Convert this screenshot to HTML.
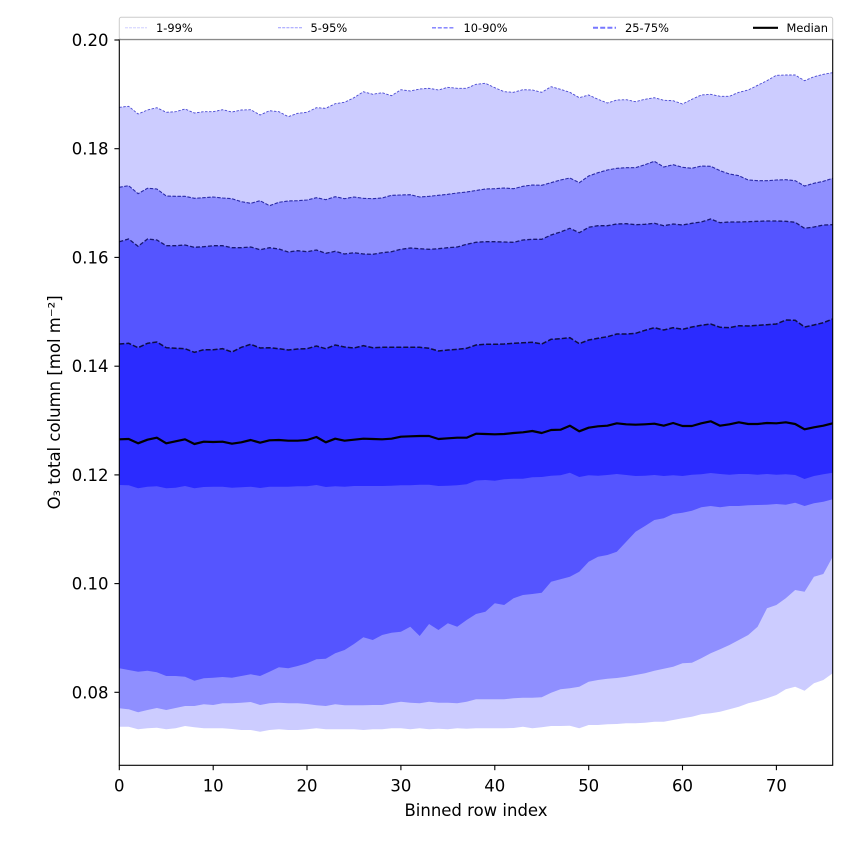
<!DOCTYPE html>
<html>
<head>
<meta charset="utf-8">
<style>
  html, body { margin:0; padding:0; background:#ffffff; }
  svg { display:block; }
  text { font-family: "DejaVu Sans", "Liberation Sans", sans-serif; fill:#000; }
</style>
</head>
<body>
<svg width="850" height="850" viewBox="0 0 850 850" xmlns="http://www.w3.org/2000/svg">
  <rect x="0" y="0" width="850" height="850" fill="#ffffff"/>
  <defs>
    <clipPath id="ax">
      <rect x="119.3" y="39.5" width="713.4" height="725.8"/>
    </clipPath>
  </defs>

  <g clip-path="url(#ax)">
    <g transform="translate(119.3,0) scale(9.387,1)">
      <!-- P99 -->
      <polygon fill="#ccccff" points="0,107.3 1,106.3 2,114 3,110 4,107.7 5,112.3 6,111.7 7,109 8,113 9,111.7 10,111.7 11,109.7 12,112 13,110 14,109.7 15,115 16,110.7 17,111.7 18,116.7 19,113.3 20,112.3 21,107.7 22,108.3 23,103.7 24,102.3 25,97.7 26,91.7 27,94.3 28,92.7 29,95.7 30,89.7 31,91 32,89 33,88.3 34,90 35,87.3 36,88.3 37,88.3 38,84.3 39,83.3 40,87.7 41,91.7 42,92.3 43,89.7 44,90 45,92.3 46,86.7 47,89.3 48,92.3 49,97.7 50,95 51,99.3 52,103 53,100 54,99.7 55,101.7 56,99.3 57,97.7 58,100.3 59,100.7 60,104 61,99.3 62,95 63,94.3 64,96.3 65,96.3 66,92.3 67,90 68,85.3 69,80.7 70,75.3 71,75 72,75 73,80.7 74,76.7 75,74.3 76,72.7 76,770 0,770"/>
      <!-- P95 -->
      <polygon fill="#8f8fff" points="0,187.3 1,185.7 2,193.7 3,188.3 4,189 5,196 6,196.3 7,196.3 8,198.3 9,197.7 10,197 11,198 12,198.7 13,201.7 14,203.3 15,200.7 16,205.7 17,202.3 18,201 19,200.7 20,200 21,197.7 22,199.7 23,196.7 24,198.7 25,197 26,198.3 27,198.7 28,198 29,195.3 30,195 31,194.7 32,197 33,196.3 34,195.3 35,194.3 36,193 37,192 38,190.5 39,189 40,188.7 41,188 42,188.7 43,186.3 44,185 45,185.3 46,182.7 47,180 48,178 49,182.7 50,176 51,172.7 52,170 53,168.3 54,167.7 55,167.7 56,164.7 57,161.3 58,167 59,164.7 60,167.3 61,168.3 62,166 63,166.3 64,170.7 65,174 66,175.7 67,180 68,180.7 69,180.7 70,180 71,179.7 72,180.7 73,186 74,183.3 75,181.3 76,178.3 76,770 0,770"/>
      <!-- P90 -->
      <polygon fill="#5555ff" points="0,241.7 1,239 2,246.3 3,239 4,240 5,245.7 6,245.7 7,245 8,247.3 9,246.7 10,245.7 11,245.7 12,247.7 13,247.7 14,247 15,249.7 16,247.7 17,249 18,252 19,250.7 20,251.7 21,250 22,253.3 23,251.3 24,254 25,252.7 26,254 27,254.3 28,252.7 29,251.7 30,249.3 31,248 32,248.7 33,249.3 34,248.7 35,247.7 36,247 37,244.3 38,242.3 39,241.7 40,241.7 41,242 42,242.3 43,240 44,239.3 45,239.3 46,235 47,232 48,228.3 49,232.7 50,227.3 51,225.7 52,225.7 53,224 54,223.7 55,224.7 56,224.3 57,223.3 58,225.7 59,224 60,225 61,223.3 62,222 63,219 64,222.7 65,222 66,222 67,221.7 68,221.3 69,221 70,221 71,221.3 72,222.3 73,228.3 74,227 75,225 76,224.7 76,770 0,770"/>
      <!-- P75 -->
      <polygon fill="#2b2bff" points="0,344 1,343.3 2,347.7 3,343.3 4,342 5,347.7 6,348.3 7,348.7 8,352.3 9,349.7 10,349.7 11,348.7 12,352 13,347.3 14,344.3 15,348 16,347.7 17,348.7 18,350 19,349 20,348.7 21,346 22,348.7 23,345 24,347 25,348 26,345.7 27,347.7 28,347.3 29,347.3 30,347.3 31,347.3 32,347.3 33,348.3 34,351 35,350 36,349.3 37,348.3 38,345 39,344.3 40,344.3 41,344 42,343.3 43,342.7 44,342.3 45,344 46,339.3 47,338.7 48,337.7 49,343.7 50,340 51,338.3 52,336.7 53,334 54,334 55,333.3 56,330.3 57,327.7 58,330 59,327.7 60,329.3 61,327 62,325.3 63,324 64,327.3 65,327.7 66,325.7 67,326 68,325.3 69,324.7 70,324 71,320 72,320.3 73,327 74,325 75,322.7 76,319 76,770 0,770"/>
      <!-- P25 -->
      <polygon fill="#5555ff" points="0,485 1,485.3 2,488.3 3,486.7 4,486.3 5,488.3 6,487.7 7,486 8,488.3 9,487 10,486.7 11,486.7 12,487.7 13,487.3 14,486.7 15,488 16,486.7 17,486.7 18,486.7 19,486.3 20,486.3 21,485 22,487 23,486.3 24,486.7 25,486 26,486 27,486 28,486 29,485.7 30,485.3 31,485.3 32,484.7 33,484.7 34,486 35,485.7 36,485.3 37,484.3 38,480.5 39,480 40,480.7 41,479.3 42,478.7 43,478.7 44,477.3 45,477 46,475.7 47,475.3 48,472.7 49,477 50,475.3 51,475.7 52,475 53,474 54,475 55,476 56,475.7 57,475 58,476 59,475.3 60,476 61,474.7 62,474.3 63,473 64,474 65,474.7 66,474 67,474 68,474.7 69,474 70,474.7 71,474.3 72,475 73,479 74,476 75,474.3 76,472.7 76,770 0,770"/>
      <!-- P10 -->
      <polygon fill="#8f8fff" points="0,668.3 1,670 2,671.7 3,670.7 4,672.3 5,676 6,676 7,676.7 8,680.7 9,678.3 10,677.7 11,677 12,677.7 13,676 14,674.3 15,676 16,671.7 17,667.3 18,668.3 19,666 20,663.3 21,659.3 22,658.7 23,653.3 24,650 25,644 26,637.3 27,640 28,635 29,632.7 30,631.7 31,626.7 32,636 33,624 34,630 35,623.3 36,626.7 37,620 38,614 39,611.7 40,603.3 41,605 42,598.3 43,595 44,594 45,592.7 46,581.7 47,579.3 48,576.7 49,571.7 50,561.7 51,556.7 52,555 53,551.7 54,541.7 55,531.7 56,526 57,520 58,518.3 59,514 60,512.7 61,510.7 62,507.3 63,506 64,507.3 65,506 66,506 67,505.3 68,505 69,504.7 70,504 71,504.7 72,502.7 73,506 74,503.3 75,501.7 76,499.3 76,770 0,770"/>
      <!-- P5 -->
      <polygon fill="#ccccff" points="0,708.3 1,709.3 2,712.3 3,710 4,708 5,710 6,708 7,706 8,706 9,704.3 10,705 11,703.3 12,703.3 13,702.7 14,702 15,705 16,703.3 17,702.7 18,703.3 19,703.3 20,704 21,705.3 22,706 23,704.3 24,705.3 25,705.3 26,705.3 27,705 28,705 29,703.3 30,701.7 31,702.7 32,703.3 33,701.7 34,702.7 35,702.7 36,703.3 37,701.7 38,699.3 39,699.3 40,699.3 41,699.3 42,698.3 43,697.7 44,697.7 45,697.3 46,692.7 47,689.3 48,688.3 49,686.7 50,681.7 51,680 52,678.7 53,678 54,676.7 55,675 56,673.3 57,670.7 58,668.7 59,666.7 60,663.3 61,662.7 62,658.3 63,653.3 64,649.3 65,645 66,640 67,635 68,626.7 69,608.3 70,605 71,598.3 72,590 73,591.7 74,576.7 75,574 76,556.7 76,770 0,770"/>
      <!-- P1 -->
      <polygon fill="#ffffff" points="0,726.7 1,726.7 2,729.3 3,728.3 4,727.7 5,729.3 6,728.3 7,726 8,727.3 9,728.3 10,728.3 11,728.3 12,729 13,730 14,730 15,731.7 16,730 17,729.3 18,730 19,730 20,729.3 21,728.3 22,729.3 23,729.3 24,729.3 25,729.3 26,730 27,729.3 28,729.3 29,728.3 30,728.3 31,729.3 32,728.3 33,729.3 34,728.7 35,729.3 36,728.3 37,728.7 38,728.3 39,728.3 40,728.3 41,728.3 42,728 43,726.7 44,728.3 45,727.3 46,726 47,726 48,725.7 49,728.3 50,725 51,725 52,724.3 53,724 54,723.3 55,723.3 56,722.7 57,721.7 58,721.7 59,720 60,718.3 61,716.7 62,714.3 63,713.3 64,711.7 65,709.3 66,706.7 67,703.3 68,701 69,698.3 70,695 71,689.3 72,686.7 73,690.7 74,683.3 75,680 76,673.3 76,770 0,770"/>

      <!-- boundary lines -->
      <polyline fill="none" stroke="#4a4ad2" stroke-width="0.9" stroke-dasharray="2.5 1.5" vector-effect="non-scaling-stroke" points="0,107.3 1,106.3 2,114 3,110 4,107.7 5,112.3 6,111.7 7,109 8,113 9,111.7 10,111.7 11,109.7 12,112 13,110 14,109.7 15,115 16,110.7 17,111.7 18,116.7 19,113.3 20,112.3 21,107.7 22,108.3 23,103.7 24,102.3 25,97.7 26,91.7 27,94.3 28,92.7 29,95.7 30,89.7 31,91 32,89 33,88.3 34,90 35,87.3 36,88.3 37,88.3 38,84.3 39,83.3 40,87.7 41,91.7 42,92.3 43,89.7 44,90 45,92.3 46,86.7 47,89.3 48,92.3 49,97.7 50,95 51,99.3 52,103 53,100 54,99.7 55,101.7 56,99.3 57,97.7 58,100.3 59,100.7 60,104 61,99.3 62,95 63,94.3 64,96.3 65,96.3 66,92.3 67,90 68,85.3 69,80.7 70,75.3 71,75 72,75 73,80.7 74,76.7 75,74.3 76,72.7"/>
      <polyline fill="none" stroke="#2a2aa8" stroke-width="1.1" stroke-dasharray="3.5 1.5" vector-effect="non-scaling-stroke" points="0,187.3 1,185.7 2,193.7 3,188.3 4,189 5,196 6,196.3 7,196.3 8,198.3 9,197.7 10,197 11,198 12,198.7 13,201.7 14,203.3 15,200.7 16,205.7 17,202.3 18,201 19,200.7 20,200 21,197.7 22,199.7 23,196.7 24,198.7 25,197 26,198.3 27,198.7 28,198 29,195.3 30,195 31,194.7 32,197 33,196.3 34,195.3 35,194.3 36,193 37,192 38,190.5 39,189 40,188.7 41,188 42,188.7 43,186.3 44,185 45,185.3 46,182.7 47,180 48,178 49,182.7 50,176 51,172.7 52,170 53,168.3 54,167.7 55,167.7 56,164.7 57,161.3 58,167 59,164.7 60,167.3 61,168.3 62,166 63,166.3 64,170.7 65,174 66,175.7 67,180 68,180.7 69,180.7 70,180 71,179.7 72,180.7 73,186 74,183.3 75,181.3 76,178.3"/>
      <polyline fill="none" stroke="#181870" stroke-width="1.3" stroke-dasharray="4 2" vector-effect="non-scaling-stroke" points="0,241.7 1,239 2,246.3 3,239 4,240 5,245.7 6,245.7 7,245 8,247.3 9,246.7 10,245.7 11,245.7 12,247.7 13,247.7 14,247 15,249.7 16,247.7 17,249 18,252 19,250.7 20,251.7 21,250 22,253.3 23,251.3 24,254 25,252.7 26,254 27,254.3 28,252.7 29,251.7 30,249.3 31,248 32,248.7 33,249.3 34,248.7 35,247.7 36,247 37,244.3 38,242.3 39,241.7 40,241.7 41,242 42,242.3 43,240 44,239.3 45,239.3 46,235 47,232 48,228.3 49,232.7 50,227.3 51,225.7 52,225.7 53,224 54,223.7 55,224.7 56,224.3 57,223.3 58,225.7 59,224 60,225 61,223.3 62,222 63,219 64,222.7 65,222 66,222 67,221.7 68,221.3 69,221 70,221 71,221.3 72,222.3 73,228.3 74,227 75,225 76,224.7"/>
      <polyline fill="none" stroke="#0d0d40" stroke-width="1.5" stroke-dasharray="5 2" vector-effect="non-scaling-stroke" points="0,344 1,343.3 2,347.7 3,343.3 4,342 5,347.7 6,348.3 7,348.7 8,352.3 9,349.7 10,349.7 11,348.7 12,352 13,347.3 14,344.3 15,348 16,347.7 17,348.7 18,350 19,349 20,348.7 21,346 22,348.7 23,345 24,347 25,348 26,345.7 27,347.7 28,347.3 29,347.3 30,347.3 31,347.3 32,347.3 33,348.3 34,351 35,350 36,349.3 37,348.3 38,345 39,344.3 40,344.3 41,344 42,343.3 43,342.7 44,342.3 45,344 46,339.3 47,338.7 48,337.7 49,343.7 50,340 51,338.3 52,336.7 53,334 54,334 55,333.3 56,330.3 57,327.7 58,330 59,327.7 60,329.3 61,327 62,325.3 63,324 64,327.3 65,327.7 66,325.7 67,326 68,325.3 69,324.7 70,324 71,320 72,320.3 73,327 74,325 75,322.7 76,319"/>
      <!-- Median -->
      <polyline fill="none" stroke="#000000" stroke-width="2.2" stroke-linejoin="round" vector-effect="non-scaling-stroke" points="0,439.3 1,439 2,443.3 3,439.7 4,437.7 5,443.3 6,441.3 7,439.3 8,444 9,441.7 10,442 11,441.7 12,443.7 13,442.3 14,440 15,442.7 16,440.3 17,440 18,440.7 19,440.7 20,440 21,437 22,442.3 23,438.7 24,440.7 25,439.7 26,438.7 27,439 28,439.3 29,438.7 30,436.7 31,436.3 32,436 33,436 34,439 35,438.3 36,437.7 37,437.7 38,433.7 39,434 40,434.3 41,434 42,433 43,432.3 44,431 45,433 46,430 47,429.7 48,425.7 49,431.3 50,427.7 51,426.3 52,425.7 53,423.3 54,424.3 55,424.7 56,424.3 57,423.7 58,425.7 59,423 60,426 61,426 62,423.3 63,421.3 64,425.7 65,424.3 66,422.3 67,424 68,424 69,423 70,423.3 71,422.3 72,424 73,429.3 74,427.3 75,425.7 76,423.3"/>
    </g>
  </g>

  <!-- axes spines -->
  <rect x="119.3" y="39.5" width="713.4" height="725.8" fill="none" stroke="#000" stroke-width="1.1"/>

  <!-- y ticks -->
  <g stroke="#000" stroke-width="1.1">
    <line x1="114.4" y1="40" x2="119.3" y2="40"/>
    <line x1="114.4" y1="148.7" x2="119.3" y2="148.7"/>
    <line x1="114.4" y1="257.4" x2="119.3" y2="257.4"/>
    <line x1="114.4" y1="366.2" x2="119.3" y2="366.2"/>
    <line x1="114.4" y1="474.9" x2="119.3" y2="474.9"/>
    <line x1="114.4" y1="583.6" x2="119.3" y2="583.6"/>
    <line x1="114.4" y1="692.3" x2="119.3" y2="692.3"/>
  </g>
  <g font-size="16.5" text-anchor="end">
    <text x="108.5" y="46">0.20</text>
    <text x="108.5" y="154.7">0.18</text>
    <text x="108.5" y="263.4">0.16</text>
    <text x="108.5" y="372.2">0.14</text>
    <text x="108.5" y="480.9">0.12</text>
    <text x="108.5" y="589.6">0.10</text>
    <text x="108.5" y="698.3">0.08</text>
  </g>

  <!-- x ticks -->
  <g stroke="#000" stroke-width="1.1">
    <line x1="119.3" y1="765.3" x2="119.3" y2="770.2"/>
    <line x1="213.2" y1="765.3" x2="213.2" y2="770.2"/>
    <line x1="307.0" y1="765.3" x2="307.0" y2="770.2"/>
    <line x1="400.9" y1="765.3" x2="400.9" y2="770.2"/>
    <line x1="494.8" y1="765.3" x2="494.8" y2="770.2"/>
    <line x1="588.7" y1="765.3" x2="588.7" y2="770.2"/>
    <line x1="682.5" y1="765.3" x2="682.5" y2="770.2"/>
    <line x1="776.4" y1="765.3" x2="776.4" y2="770.2"/>
  </g>
  <g font-size="16.5" text-anchor="middle">
    <text x="119.3" y="791.5">0</text>
    <text x="213.2" y="791.5">10</text>
    <text x="307.0" y="791.5">20</text>
    <text x="400.9" y="791.5">30</text>
    <text x="494.8" y="791.5">40</text>
    <text x="588.7" y="791.5">50</text>
    <text x="682.5" y="791.5">60</text>
    <text x="776.4" y="791.5">70</text>
  </g>

  <!-- axis labels -->
  <text x="476" y="816" font-size="16.5" text-anchor="middle">Binned row index</text>
  <text transform="translate(60,402.4) rotate(-90)" x="0" y="0" font-size="16.5" text-anchor="middle">O₃ total column [mol m⁻²]</text>

  <!-- legend -->
  <rect x="119.3" y="17.3" width="713.4" height="22.2" rx="2" ry="2" fill="#ffffff" fill-opacity="0.85" stroke="#cccccc" stroke-width="1"/>
  <line x1="119.3" y1="39.5" x2="832.7" y2="39.5" stroke="#8a8a8a" stroke-width="1.2"/>
  <g stroke-linecap="butt">
    <line x1="125" y1="27.8" x2="147" y2="27.8" stroke="#c8c8ff" stroke-width="0.9" stroke-dasharray="3 1"/>
    <line x1="278" y1="27.8" x2="302" y2="27.8" stroke="#9a9aff" stroke-width="1" stroke-dasharray="3 1.2"/>
    <line x1="432" y1="27.8" x2="455" y2="27.8" stroke="#7a7aff" stroke-width="1.4" stroke-dasharray="4 1.8"/>
    <line x1="593" y1="27.8" x2="616" y2="27.8" stroke="#7777ff" stroke-width="2" stroke-dasharray="5 2.2"/>
    <line x1="753" y1="27.8" x2="778" y2="27.8" stroke="#000000" stroke-width="2.2"/>
  </g>
  <g font-size="11.4">
    <text x="156" y="31.8">1-99%</text>
    <text x="310.5" y="31.8">5-95%</text>
    <text x="463.5" y="31.8">10-90%</text>
    <text x="625" y="31.8">25-75%</text>
    <text x="786.5" y="31.8">Median</text>
  </g>
</svg>
</body>
</html>
